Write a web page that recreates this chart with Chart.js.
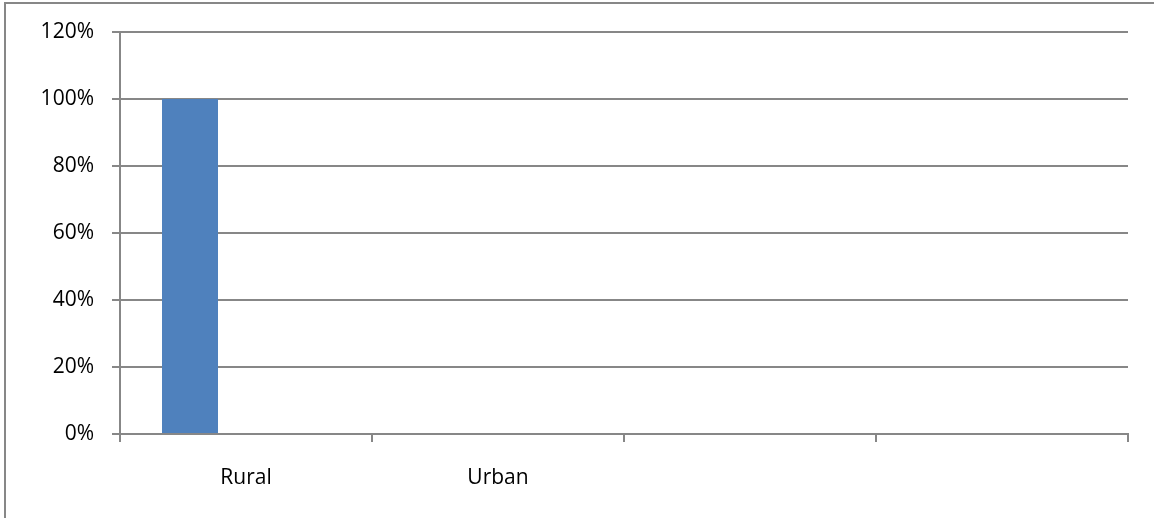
<!DOCTYPE html>
<html>
<head>
<meta charset="utf-8">
<script src="https://cdn.jsdelivr.net/npm/chart.js@4/dist/chart.umd.min.js"></script>
<style>
  html, body { margin: 0; padding: 0; background: #fff; }
  #frame { position: absolute; left: 4px; top: 2px; width: 1150px; height: 516px;
           border-left: 2px solid #878787; border-top: 2px solid #878787; box-sizing: border-box; }
  #wrap { position: absolute; left: 0; top: 0; width: 1154px; height: 518px; }
</style>
</head>
<body>
<div id="frame"></div>
<div id="wrap"><canvas id="chart"></canvas></div>
<script>
const categories = ["Rural", "Urban", "", ""];
const series1 = [1, null, null, null];
const series2 = [null, null, null, null];
const series3 = [null, null, null, null];
const yTicks = [0, 0.2, 0.4, 0.6, 0.8, 1.0, 1.2];

const GRID = "#878787";
const FONT = { family: "'Open Sans', 'Liberation Sans', sans-serif", size: 21 };

new Chart(document.getElementById("chart"), {
  type: "bar",
  data: {
    labels: categories,
    datasets: [
      { label: "Series1", data: series1, backgroundColor: "#4f81bd" },
      { label: "Series2", data: series2, backgroundColor: "#c0504d" },
      { label: "Series3", data: series3, backgroundColor: "#9bbb59" },
    ],
  },
  options: {
    responsive: true, maintainAspectRatio: false, animation: false,
    layout: { padding: { top: 32, right: 26, left: 0, bottom: 0 } },
    datasets: { bar: { categoryPercentage: 168 / 252, barPercentage: 1 } },
    plugins: { legend: { display: false }, tooltip: { enabled: false } },
    scales: {
      x: {
        offset: true,
        grid: { offset: true, drawOnChartArea: false, drawTicks: true, tickLength: 8, color: GRID, lineWidth: 2 },
        border: { color: GRID, width: 2 },
        ticks: { color: "#000", font: FONT, padding: 23, maxRotation: 0, autoSkip: false },
        afterFit: s => { s.height = 84; },
      },
      y: {
        min: 0, max: 1.2,
        afterBuildTicks: s => { s.ticks = yTicks.map(v => ({ value: v })); },
        grid: { color: GRID, lineWidth: 2, tickLength: 8 },
        border: { color: GRID, width: 2 },
        ticks: { color: "#000", font: FONT, padding: 18, callback: v => Math.round(v * 100) + "%" },
        afterFit: s => { s.width = 120; },
      },
    },
  },
});
</script>
</body>
</html>
